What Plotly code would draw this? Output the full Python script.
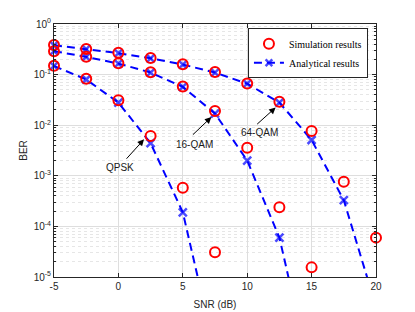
import plotly.graph_objects as go

# ---------------- data ----------------
snr = [-5, -2.5, 0, 2.5, 5, 7.5, 10, 12.5, 15, 17.5, 20]

qpsk_sim = [0.15, 0.083, 0.031, 0.0061, 5.8e-4, 3.1e-5]
qpsk_ana = [0.148, 0.080, 0.028, 0.0044, 1.9e-4, 3.3e-7]

qam16_sim = [0.29, 0.226, 0.167, 0.111, 0.058, 0.019, 0.0036, 2.4e-4, 1.55e-5]
qam16_ana = [0.29, 0.224, 0.165, 0.110, 0.057, 0.017, 0.0020, 6.0e-5, 1.0e-7]

qam64_sim = [0.385, 0.32, 0.27, 0.213, 0.16, 0.112, 0.067, 0.029, 0.0077, 7.6e-4, 6.0e-5]
qam64_ana = [0.38, 0.318, 0.265, 0.21, 0.158, 0.11, 0.066, 0.028, 0.0051, 3.3e-4, 2.6e-6]

x_ticks = [-5, 0, 5, 10, 15, 20]
y_ticks = [1, 1e-1, 1e-2, 1e-3, 1e-4, 1e-5]
y_ticktext = ["10<sup>0</sup>", "10<sup>-1</sup>", "10<sup>-2</sup>",
              "10<sup>-3</sup>", "10<sup>-4</sup>", "10<sup>-5</sup>"]

labels = ["QPSK", "16-QAM", "64-QAM"]
YMIN = 1e-5

BLUE = "#0000FF"
RED = "#FF0000"
AX = "#262626"

fig = go.Figure()

series = [(qpsk_sim, qpsk_ana), (qam16_sim, qam16_ana), (qam64_sim, qam64_ana)]
for i, (sim, ana) in enumerate(series):
    xs_a = snr[:len(ana)]
    sizes = [8 if v >= YMIN else 0 for v in ana]
    fig.add_trace(go.Scatter(
        x=xs_a, y=ana, mode="lines+markers",
        line=dict(color=BLUE, width=2, dash="8px,5px"),
        marker=dict(symbol="x-thin", size=sizes, color=BLUE,
                    line=dict(color=BLUE, width=2.5)),
        cliponaxis=False,
        name="Analytical results", legendgroup="ana", showlegend=(i == 0),
        legendrank=2,
    ))
for i, (sim, ana) in enumerate(series):
    fig.add_trace(go.Scatter(
        x=snr[:len(sim)], y=sim, mode="markers",
        marker=dict(symbol="circle-open", size=10, color=RED,
                    line=dict(color=RED, width=2)),
        cliponaxis=False,
        name="Simulation results", legendgroup="sim", showlegend=(i == 0),
        legendrank=1,
    ))

# annotations: arrows + labels
arrow_heads = [(1.99, -2.28), (7.22, -1.84), (12.21, -1.65)]
arrow_off = [(-19, 21), (-20, 19), (-20, 18)]
text_pos = [(0.10, -2.83), (5.91, -2.38), (10.93, -2.15)]
for lab, (hx, hy), (ox, oy), (tx, ty) in zip(labels, arrow_heads, arrow_off, text_pos):
    fig.add_annotation(x=hx, y=hy, xref="x", yref="y", text=" ",
                       font=dict(size=1),
                       showarrow=True, ax=ox, ay=oy,
                       arrowhead=2, arrowsize=1.3, arrowwidth=1, arrowcolor="black")
    fig.add_annotation(x=tx, y=ty, xref="x", yref="y", text=lab,
                       showarrow=False,
                       font=dict(family="Liberation Sans, Arial", size=10, color="#1a1a1a"))

minor_y = [k * 10.0 ** e for e in range(-5, 0) for k in range(2, 10)]

fig.update_layout(
    width=407, height=304,
    margin=dict(l=46, r=39, t=16, b=35),
    plot_bgcolor="white", paper_bgcolor="white",
    font=dict(family="Liberation Sans, Arial", size=10, color=AX),
    showlegend=True,
    legend=dict(
        x=0.975, y=0.983, xanchor="right", yanchor="top",
        bgcolor="white", bordercolor=AX, borderwidth=1,
        font=dict(family="Liberation Serif, Times New Roman", size=10, color="black"),
        traceorder="normal", itemwidth=30, tracegroupgap=0,
    ),
    xaxis=dict(
        range=[-5, 20], tickvals=x_ticks, ticktext=[str(v) for v in x_ticks],
        ticks="inside", ticklen=4, tickcolor=AX, mirror="allticks",
        showline=True, linecolor=AX, linewidth=1, automargin=False,
        showgrid=True, gridcolor="#dedede", gridwidth=1, zeroline=False,
        title=dict(text="SNR (dB)", standoff=9, font=dict(size=10)),
        tickfont=dict(size=10, color=AX),
    ),
    yaxis=dict(
        type="log", range=[-5, 0], tickvals=y_ticks, ticktext=y_ticktext,
        ticks="inside", ticklen=4, tickcolor=AX, mirror="allticks",
        showline=True, linecolor=AX, linewidth=1, automargin=False,
        showgrid=True, gridcolor="#dedede", gridwidth=1, zeroline=False,
        minor=dict(tickmode="array", tickvals=minor_y, ticks="inside", ticklen=2,
                   tickcolor=AX, showgrid=True, gridcolor="#e6e6e6", griddash="dot",
                   gridwidth=1),
        title=dict(text="BER", standoff=4, font=dict(size=10)),
        tickfont=dict(size=10, color=AX),
    ),
)

fig.write_html("out.html")
